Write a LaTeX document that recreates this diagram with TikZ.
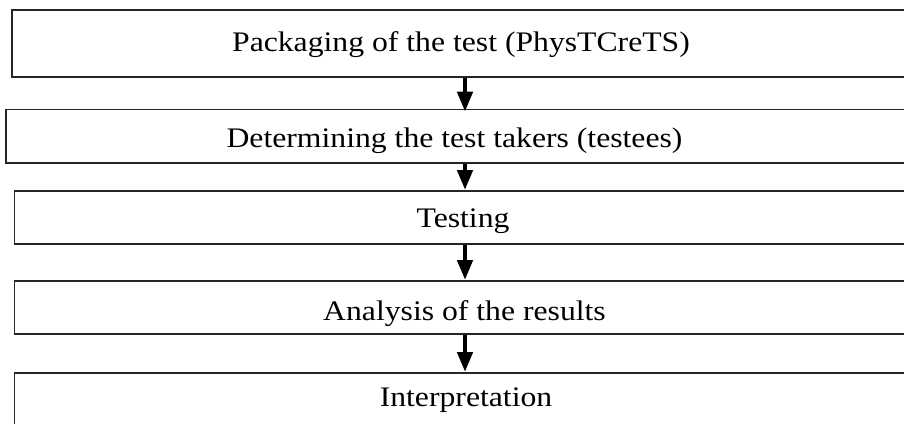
\documentclass[tikz,border=0pt]{standalone}
\usepackage{fontspec}
\setmainfont{Liberation Serif}[FakeStretch=1.12]
\usetikzlibrary{arrows.meta}
\begin{document}
\begin{tikzpicture}[x=1pt,y=-1pt,
  stepbox/.style={draw=black!85,line width=1.5pt,rectangle,anchor=north west,inner sep=0pt,minimum width=930pt},
  label/.style={anchor=base,inner sep=0pt,font=\fontsize{28.3}{30}\selectfont},
  flow/.style={line width=4.5pt,-{Triangle[width=15pt,length=20pt]}}]
\clip (0,0) rectangle (904,423);
\fill[white] (0,0) rectangle (904,423);
\node[stepbox,minimum height=66.7pt] (b1) at (11,9.3) {};
\node[stepbox,minimum height=53.3pt] (b2) at (5,108.7) {};
\node[stepbox,minimum height=53pt] (b3) at (13.5,190) {};
\node[stepbox,minimum height=53pt] (b4) at (13.5,280) {};
\node[stepbox,minimum height=51.5pt] (b5) at (13.8,372) {};
\node[label] (t1) at (461,51) {Packaging of the test (PhysTCreTS)};
\node[label] (t2) at (454.5,147) {Determining the test takers (testees)};
\node[label] (t3) at (463,227) {Testing};
\node[label] (t4) at (464.5,320) {Analysis of the results};
\node[label] (t5) at (466,406) {Interpretation};
\coordinate (ax) at (465,0);
\draw[flow] (b1.south -| ax) -- ([yshift=-3pt]b2.north -| ax);
\draw[flow] (b2.south -| ax) -- (b3.north -| ax);
\draw[flow] (b3.south -| ax) -- (b4.north -| ax);
\draw[flow] (b4.south -| ax) -- (b5.north -| ax);
\end{tikzpicture}
\end{document}
